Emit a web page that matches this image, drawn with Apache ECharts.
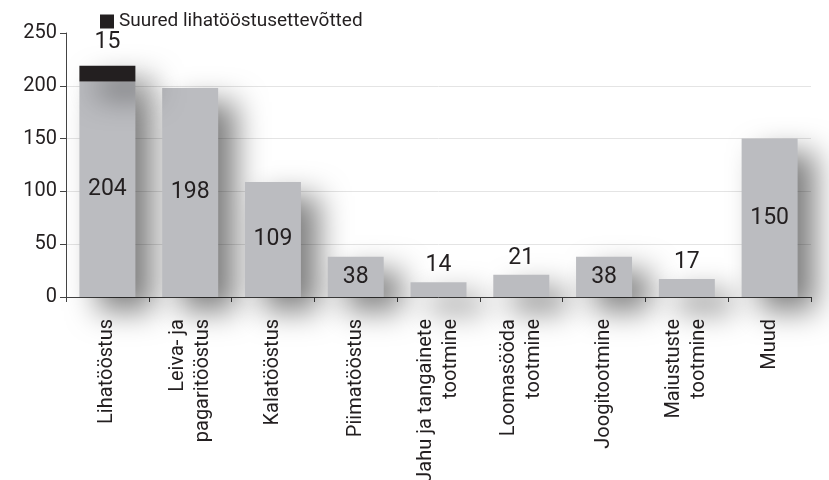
<!DOCTYPE html>
<html>
<head>
<meta charset="utf-8">
<script src="https://cdn.jsdelivr.net/npm/echarts@6/dist/echarts.min.js"></script>
<style>
  html, body { margin: 0; padding: 0; background: #fff; }
  #chart { width: 829px; height: 480px; }
</style>
</head>
<body>
<div id="chart"></div>
<script>
// andmed
var categories = [
  'Lihatööstus',
  'Leiva- ja\npagaritööstus',
  'Kalatööstus',
  'Piimatööstus',
  'Jahu ja tangainete\ntootmine',
  'Loomasööda\ntootmine',
  'Joogitootmine',
  'Maiustuste\ntootmine',
  'Muud'
];
var totalValues = [204, 198, 109, 38, 14, 21, 38, 17, 150];
var bigMeatValues = [15, null, null, null, null, null, null, null, null];
var yTicks = [0, 50, 100, 150, 200, 250];

var FONT = "Roboto, 'Liberation Sans', sans-serif";
var TEXT = '#231f20';

var myChart = echarts.init(document.getElementById('chart'));

var shadow = {
  shadowColor: 'rgba(0,0,0,0.5)',
  shadowBlur: 30,
  shadowOffsetX: 18,
  shadowOffsetY: 14
};

myChart.setOption({
  animation: false,
  textStyle: { fontFamily: FONT },
  legend: {
    data: ['Suured lihatööstusettevõtted'],
    left: 95,
    top: 7,
    itemWidth: 14,
    itemHeight: 14,
    icon: 'rect',
    textStyle: { fontFamily: FONT, fontSize: 19, color: TEXT }
  },
  grid: { left: 66, right: 18, top: 33, bottom: 183, outerBoundsMode: 'none', containLabel: false },
  xAxis: {
    type: 'category',
    data: categories,
    axisLine: { lineStyle: { color: '#444', width: 1 } },
    axisTick: { show: true, length: 5, lineStyle: { color: '#444' } },
    axisLabel: {
      interval: 0,
      rotate: 90,
      margin: 22,
      fontFamily: FONT,
      fontSize: 20,
      lineHeight: 25,
      color: TEXT
    }
  },
  yAxis: {
    type: 'value',
    min: yTicks[0],
    max: yTicks[yTicks.length - 1],
    interval: 50,
    axisLine: { show: true, lineStyle: { color: '#444', width: 1 } },
    axisTick: { show: true, length: 6, lineStyle: { color: '#444' } },
    axisLabel: { fontFamily: FONT, fontSize: 20, color: TEXT, margin: 9 },
    splitLine: { show: true, showMaxLine: false, lineStyle: { color: '#e4e4e4' } }
  },
  series: [
    {
      name: 'Kokku',
      type: 'bar',
      stack: 'a',
      barWidth: 56,
      itemStyle: Object.assign({ color: '#bbbcc0' }, shadow),
      data: totalValues.map(function (v) {
        // väikestel tulpadel on silt tulba kohal
        return v < 30 ? { value: v, label: { position: 'top' } } : v;
      }),
      label: {
        show: true,
        position: 'inside',
        fontFamily: FONT,
        fontSize: 23,
        color: TEXT
      },
      z: 2
    },
    {
      name: 'Suured lihatööstusettevõtted',
      type: 'bar',
      stack: 'a',
      barWidth: 56,
      itemStyle: Object.assign({ color: '#231f20' }, shadow),
      data: bigMeatValues,
      label: {
        show: true,
        position: 'top',
        distance: 12,
        fontFamily: FONT,
        fontSize: 23,
        color: TEXT
      },
      z: 2
    }
  ]
});
</script>
</body>
</html>
